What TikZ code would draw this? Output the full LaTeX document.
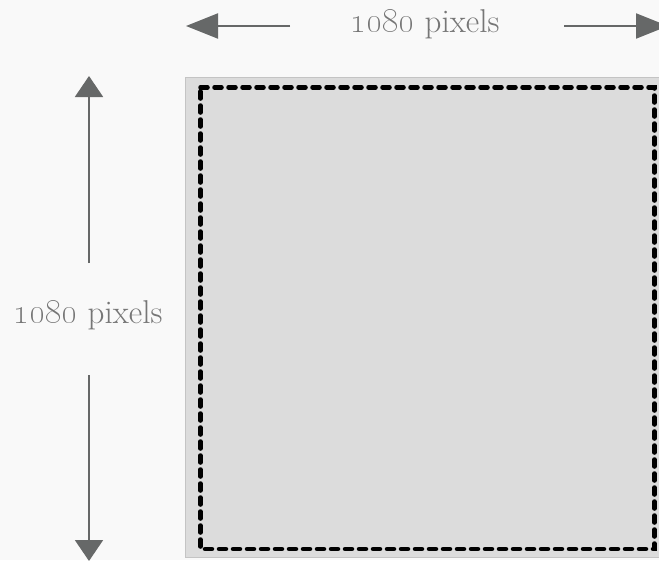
\documentclass[tikz,border=0pt]{standalone}
\usetikzlibrary{arrows.meta}
\definecolor{bgc}{HTML}{F9F9F9}
\definecolor{boxfill}{HTML}{DCDCDC}
\definecolor{boxline}{HTML}{C4C4C4}
\definecolor{arrowc}{HTML}{666868}
\definecolor{textc}{HTML}{767676}
\begin{document}
\begin{tikzpicture}[x=1pt,y=-1pt,
  dimlabel/.style={text=textc,font=\fontsize{33}{38}\selectfont,inner sep=0pt,anchor=base},
  hdim/.style={draw=arrowc,line width=2pt,-{Triangle[length=32pt,width=25pt]}},
  vdim/.style={draw=arrowc,line width=2pt,-{Triangle[length=21pt,width=28pt]}},
  canvasbox/.style={fill=boxfill,draw=boxline,line width=1pt},
  safebox/.style={draw=black,line width=4.5pt,dash pattern=on 7pt off 7pt,line cap=round}]
\fill[bgc] (0,0) rectangle (659,560);
\useasboundingbox (0,0) rectangle (659,560);
\clip (0,0) rectangle (659,560);
% canvas
\draw[canvasbox] (185.5,77) rectangle (680,557.5);
\draw[safebox] (200.5,87.5) -- (654.5,87.5) -- (654.5,549) -- (200.5,549) -- cycle;
% labels
\node[dimlabel] (toplabel) at (425,32) {\oldstylenums{1080} pixels};
\node[dimlabel] (leftlabel) at (88,323) {\oldstylenums{1080} pixels};
% horizontal arrows
\coordinate (hl0) at (290,26);
\coordinate (hl1) at (186,26);
\coordinate (hr0) at (564,26);
\coordinate (hr1) at (668,26);
\draw[hdim] (hl0) -- (hl1);
\draw[hdim] (hr0) -- (hr1);
% vertical arrows
\coordinate (vu0) at (89,263);
\coordinate (vu1) at (89,76);
\coordinate (vd0) at (89,375);
\coordinate (vd1) at (89,561);
\draw[vdim] (vu0) -- (vu1);
\draw[vdim] (vd0) -- (vd1);
\end{tikzpicture}
\end{document}
